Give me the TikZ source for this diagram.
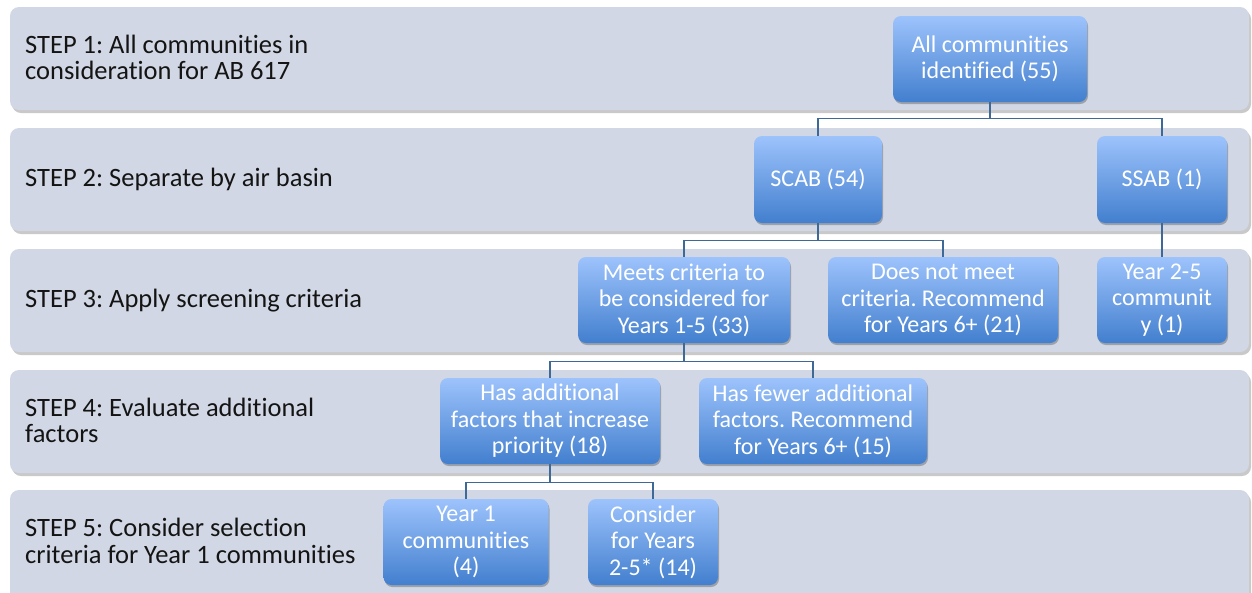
\documentclass[tikz,border=0pt]{standalone}
\usepackage{fontspec}
\setmainfont[Ligatures=NoCommon]{Carlito}
\usetikzlibrary{shadows}
\definecolor{bandfill}{RGB}{209,215,228}
\definecolor{boxtop}{RGB}{157,195,252}
\definecolor{boxbot}{RGB}{66,127,206}
\definecolor{connc}{RGB}{62,104,150}
\tikzset{
  band/.style={fill=bandfill, rounded corners=9pt, drop shadow={shadow xshift=2pt, shadow yshift=-3pt, opacity=0.35, fill=black!60}},
  bandtext/.style={anchor=west, align=left, font=\fontsize{26.5}{26.5}\selectfont, text=black!92, inner sep=0pt},
  fbox/.style={rounded corners=8pt, top color=boxtop, bottom color=boxbot, text=white, align=center,
    font=\fontsize{24}{26.5}\selectfont, inner sep=0pt, draw=none,
    drop shadow={shadow xshift=1pt, shadow yshift=-2pt, opacity=0.25, fill=black}},
  conn/.style={draw=connc, line width=1.4pt}
}
\begin{document}
\frenchspacing
\begin{tikzpicture}[x=1pt,y=-1pt]
\useasboundingbox (0,0) rectangle (1252,592);
\clip (0,0) rectangle (1252,592);
\fill[white] (0,0) rectangle (1252,592);
% bands
\path[band] (10,7) rectangle (1249,110);
\path[band] (10,128) rectangle (1249,231);
\path[band] (10,249) rectangle (1249,352);
\path[band] (10,370) rectangle (1249,473);
\path[band] (10,490) rectangle (1249,610);
% band texts
\node[bandtext] (s1) at (25,57.5) {STEP 1: All communities in\\consideration for AB 617};
\node[bandtext] (s2) at (25,179.5) {STEP 2: Separate by air basin};
\node[bandtext] (s3) at (25,300.5) {STEP 3: Apply screening criteria};
\node[bandtext] (s4) at (25,420.5) {STEP 4: Evaluate additional\\factors};
\node[bandtext] (s5) at (25,541) {STEP 5: Consider selection\\criteria for Year 1 communities};
% boxes
\node[fbox, minimum width=194pt, minimum height=86pt] (all) at (990,59) {All communities\\identified (55)};
\node[fbox, minimum width=128pt, minimum height=87pt] (scab) at (818,179.5) {SCAB (54)};
\node[fbox, minimum width=130pt, minimum height=87pt] (ssab) at (1162,179.5) {SSAB (1)};
\node[fbox, minimum width=212pt, minimum height=86pt] (meets) at (684,300) {Meets criteria to\\be considered for\\Years 1-5 (33)};
\node[fbox, minimum width=230pt, minimum height=86pt] (dnm) at (943,300) {Does not meet\\criteria. Recommend\\for Years 6+ (21)};
\node[fbox, minimum width=130pt, minimum height=86pt] (y25) at (1162,300) {Year 2-5\\communit\\y (1)};
\node[fbox, minimum width=220pt, minimum height=86pt] (hasadd) at (550,421) {Has additional\\factors that increase\\priority (18)};
\node[fbox, minimum width=228pt, minimum height=86pt] (fewer) at (813,421) {Has fewer additional\\factors. Recommend\\for Years 6+ (15)};
\node[fbox, minimum width=165pt, minimum height=86pt] (y1) at (466,542) {Year 1\\communities\\(4)};
\node[fbox, minimum width=130pt, minimum height=86pt] (cons) at (653,542) {Consider\\for Years\\2-5* (14)};
% connectors
\draw[conn] (all.south) -- ++(0,16) -| (scab.north);
\draw[conn] (all.south) -- ++(0,16) -| (ssab.north);
\draw[conn] (scab.south) -- ++(0,17) -| (meets.north);
\draw[conn] (scab.south) -- ++(0,17) -| (dnm.north);
\draw[conn] (ssab.south) -- (y25.north);
\draw[conn] (meets.south) -- ++(0,18) -| (hasadd.north);
\draw[conn] (meets.south) -- ++(0,18) -| (fewer.north);
\draw[conn] (hasadd.south) -- ++(0,18) -| (y1.north);
\draw[conn] (hasadd.south) -- ++(0,18) -| (cons.north);
\end{tikzpicture}
\end{document}
